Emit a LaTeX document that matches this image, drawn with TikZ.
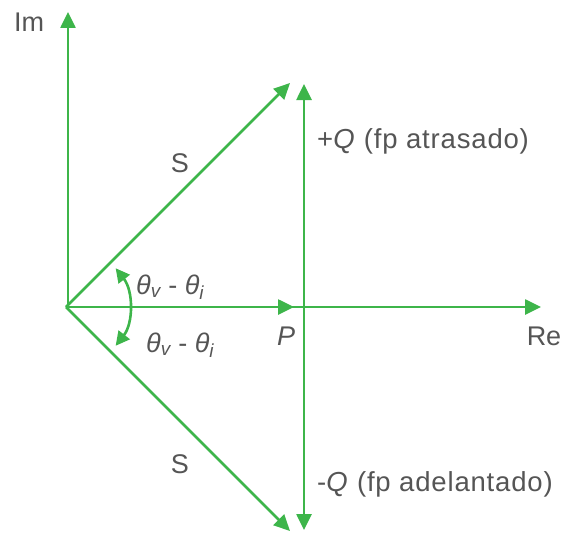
\documentclass[tikz,border=0pt]{standalone}
\usepackage{fontspec}
\setmainfont{Liberation Sans}
\newfontfamily\widesans[LetterSpace=3]{Liberation Sans}
\usetikzlibrary{arrows.meta}
\definecolor{vgreen}{HTML}{3DB54A}
\definecolor{tgray}{HTML}{555555}
\begin{document}
\begin{tikzpicture}[x=1pt,y=-1pt,
  vec/.style={draw=vgreen,line width=2.6pt,-{Triangle[length=16pt,width=15pt]}},
  lbl/.style={text=tgray,font=\fontsize{27}{30}\selectfont,inner sep=0pt},
  qlbl/.style={text=tgray,font=\widesans\fontsize{27.5}{30}\selectfont,inner sep=0pt,anchor=west}]
\useasboundingbox (0,0) rectangle (561,535);
\coordinate (O) at (66,307);
\coordinate (Im) at (68,12);
\coordinate (Re) at (541,307);
\coordinate (S1) at (290,83);
\coordinate (S2) at (290,531);
\coordinate (Pt) at (294,307);
\coordinate (Pb) at (304,307);
\coordinate (Qt) at (304,84);
\coordinate (Qb) at (304,530);
\draw[vec] (O) -- (Re);
\draw[vec] (68,307) -- (Im);
\draw[vec] (O) -- (Pt);
\draw[vec] (O) -- (S1);
\draw[vec] (O) -- (S2);
\draw[vec] (Pb) -- (Qt);
\draw[vec] (Pb) -- (Qb);
\draw[draw=vgreen,line width=2.6pt,{Triangle[length=14pt,width=14pt]}-{Triangle[length=14pt,width=14pt]}]
  (O) ++(38:63) arc[start angle=38,end angle=-38,radius=63];
\node[lbl] (lIm) at (29,22) {Im};
\node[lbl] (lRe) at (544,336) {Re};
\node[lbl] (lS1) at (180,163) {S};
\node[lbl] (lS2) at (180,464) {S};
\node[lbl] (lP) at (286,336) {\textit{P}};
\node[lbl,anchor=west] (lt1) at (136,287) {\textit{θ\textsubscript{v}} - \textit{θ\textsubscript{i}}};
\node[lbl,anchor=west] (lt2) at (146,345) {\textit{θ\textsubscript{v}} - \textit{θ\textsubscript{i}}};
\node[qlbl] (lQ1) at (317,141) {+\textit{Q} (fp atrasado)};
\node[qlbl] (lQ2) at (317,484) {-\textit{Q} (fp adelantado)};
\end{tikzpicture}
\end{document}
